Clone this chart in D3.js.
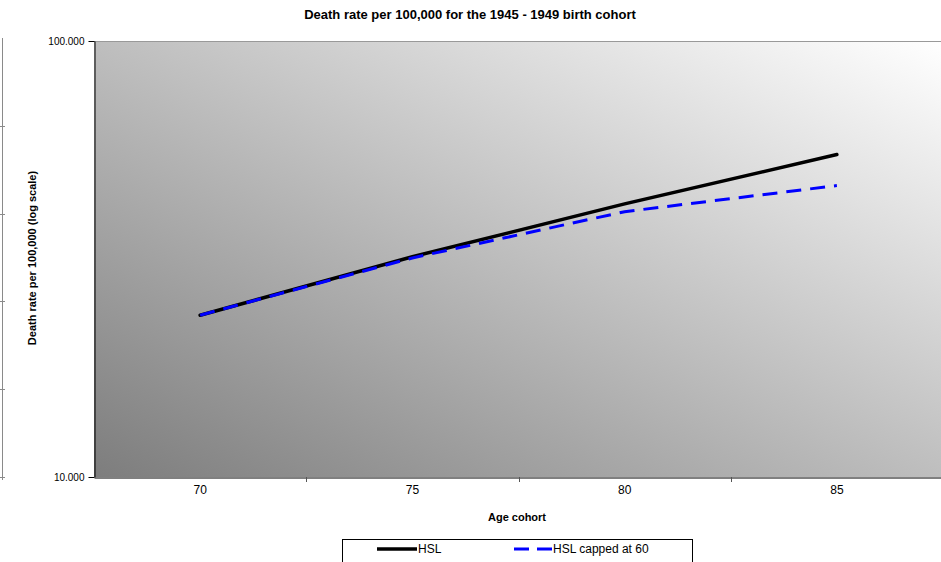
<!DOCTYPE html>
<html><head><meta charset="utf-8">
<script src="https://cdn.jsdelivr.net/npm/d3@7/dist/d3.min.js"></script>
<style>body{margin:0;background:#fff}svg{display:block;font-family:"Liberation Sans",Arial,sans-serif}</style>
</head><body>
<svg id="c" width="941" height="562"></svg>
<script>
const categories = ["70","75","80","85"];
const hsl = [23.5, 32.0, 42.3, 54.9];
const hslCapped = [23.5, 31.8, 40.6, 46.6];
const yTicks = [10, 100];
const seriesNames = ["HSL", "HSL capped at 60"];

const svg = d3.select("#c");
const L = 94, R = 943, T = 41, B = 477;

const defs = svg.append("defs");
const g = defs.append("linearGradient").attr("id","bg")
  .attr("x1",0).attr("y1",1).attr("x2",1).attr("y2",0);
g.append("stop").attr("offset","0%").attr("stop-color","#7d7d7d");
g.append("stop").attr("offset","100%").attr("stop-color","#ffffff");

svg.append("rect").attr("x",L).attr("y",T).attr("width",R-L).attr("height",B-T).attr("fill","url(#bg)");
svg.append("line").attr("x1",L).attr("x2",R).attr("y1",T+0.5).attr("y2",T+0.5).attr("stroke","#999").attr("stroke-width",1);

const x = d3.scaleBand().domain(categories).range([L,R]).padding(0);
const y = d3.scaleLog().domain([10,100]).range([B,T]);

// remnant axis at left edge
const rem = svg.append("g").attr("stroke","#8a8a8a");
rem.append("line").attr("x1",2.5).attr("x2",2.5).attr("y1",38).attr("y2",480);
d3.range(6).map(i=>38+ (i)*(477-38)/5).slice(1).forEach(v=>{
  rem.append("line").attr("x1",0).attr("x2",5).attr("y1",Math.round(v)+0.5).attr("y2",Math.round(v)+0.5);
});

// y axis
const ya = svg.append("g").attr("transform",`translate(${L+0.5},0)`)
  .call(d3.axisLeft(y).tickValues(yTicks).tickFormat(d3.format(".3f")).tickSize(6).tickSizeOuter(0));
ya.select(".domain").attr("stroke","#000");
ya.selectAll("line").attr("stroke","#000");
ya.selectAll("text").attr("font-size",10).attr("fill","#000").attr("dy","0.32em").attr("x",-10);

// x axis
const xa = svg.append("g").attr("transform",`translate(0,${B+0.5})`)
  .call(d3.axisBottom(x).tickSize(0).tickSizeOuter(0).tickPadding(8));
xa.select(".domain").attr("stroke","#000");
xa.selectAll("text").attr("font-size",12).attr("fill","#000");
categories.slice(1).forEach(c=>{
  svg.append("line").attr("x1",Math.round(x(c))+0.5).attr("x2",Math.round(x(c))+0.5)
    .attr("y1",B).attr("y2",B+5).attr("stroke","#555");
});

const line = d3.line().x((d,i)=>x(categories[i])+x.bandwidth()/2).y(d=>y(d));
svg.append("path").datum(hsl).attr("d",line).attr("fill","none").attr("stroke","#000").attr("stroke-width",3.5).attr("stroke-linecap","round");
svg.append("path").datum(hslCapped).attr("d",line).attr("fill","none").attr("stroke","#0000ff").attr("stroke-width",3).attr("stroke-dasharray","15,9");

// titles
svg.append("text").attr("x",470).attr("y",19).attr("text-anchor","middle").attr("font-size",13).attr("font-weight","bold").text("Death rate per 100,000 for the 1945 - 1949 birth cohort");
svg.append("text").attr("x",517).attr("y",521).attr("text-anchor","middle").attr("font-size",11).attr("font-weight","bold").text("Age cohort");
svg.append("text").attr("transform","translate(36,258) rotate(-90)").attr("text-anchor","middle").attr("font-size",11).attr("font-weight","bold").text("Death rate per 100,000 (log scale)");

// legend
const lg = svg.append("g");
lg.append("rect").attr("x",342.5).attr("y",539.5).attr("width",350).attr("height",24).attr("fill","#fff").attr("stroke","#000");
lg.append("line").attr("x1",377).attr("x2",417).attr("y1",549).attr("y2",549).attr("stroke","#000").attr("stroke-width",3.5);
lg.append("text").attr("x",418).attr("y",553).attr("font-size",12).text(seriesNames[0]);
lg.append("line").attr("x1",514).attr("x2",552).attr("y1",549).attr("y2",549).attr("stroke","#0000ff").attr("stroke-width",3).attr("stroke-dasharray","15,8");
lg.append("text").attr("x",553).attr("y",553).attr("font-size",12).text(seriesNames[1]);
</script>
</body></html>
